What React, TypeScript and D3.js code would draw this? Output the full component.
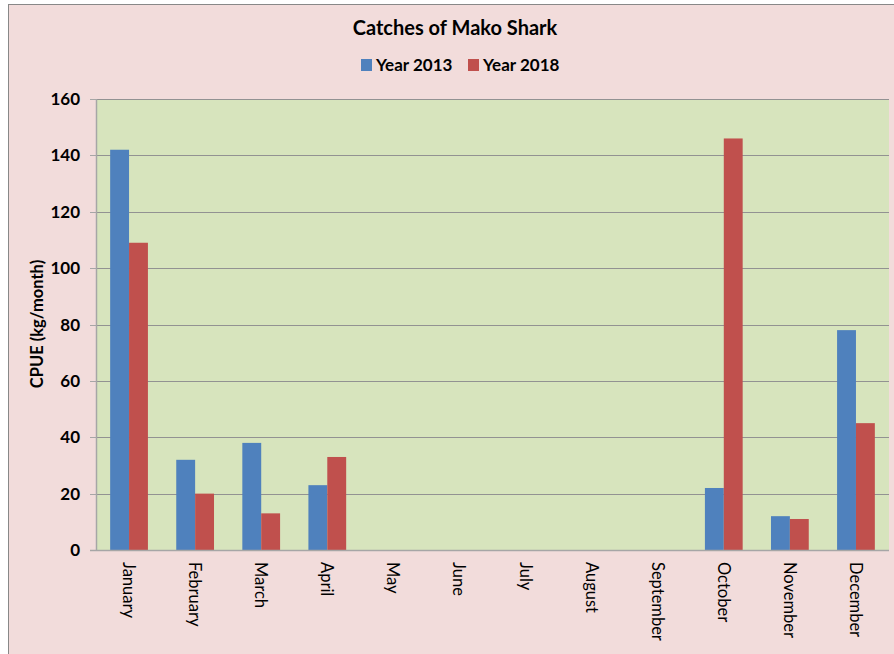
import * as d3 from "d3"

const months = ["January", "February", "March", "April", "May", "June", "July", "August", "September", "October", "November", "December"]
const year2013 = [142, 32, 38, 23, 0, 0, 0, 0, 0, 22, 12, 78]
const year2018 = [109, 20, 13, 33, 0, 0, 0, 0, 0, 146, 11, 45]
const yTicks = [0, 20, 40, 60, 80, 100, 120, 140, 160]
const seriesNames = ["Year 2013", "Year 2018"]
const seriesColors = ["#4f81bd", "#c0504d"]

const W = 894
const H = 654
const plot = { left: 96, right: 889, top: 99, bottom: 550 }
const font = "Lato, 'Open Sans', sans-serif"

export default function App() {
  const x = d3.scaleBand<string>().domain(months).range([plot.left, plot.right]).paddingInner(0).paddingOuter(0)
  const y = d3.scaleLinear().domain([0, 160]).range([plot.bottom, plot.top])
  const bw = x.bandwidth() / 3.5
  const series = [year2013, year2018]

  return (
    <svg width={W} height={H} style={{ position: "absolute", left: 0, top: 0, background: "#fff" }}>
      {/* chart frame */}
      <rect x={8.5} y={4.5} width={W} height={H} fill="#f2dcdb" stroke="#888" strokeWidth={1} />

      {/* plot area */}
      <rect x={plot.left} y={plot.top} width={plot.right - plot.left} height={plot.bottom - plot.top} fill="#d7e4bd" />

      {/* grid lines */}
      {yTicks.filter(t => t > 0).map(t => (
        <line key={t} x1={plot.left} x2={plot.right} y1={Math.round(y(t)) + 0.5} y2={Math.round(y(t)) + 0.5} stroke="#929292" strokeWidth={1} />
      ))}

      {/* bars */}
      {series.map((vals, si) =>
        vals.map((v, i) => {
          const bx = (x(months[i]) ?? 0) + x.bandwidth() / 2 - bw + si * bw
          return v > 0 ? (
            <rect key={`${si}-${i}`} x={bx} y={y(v)} width={bw} height={y(0) - y(v)} fill={seriesColors[si]} />
          ) : null
        })
      )}

      {/* axes */}
      <line x1={plot.left + 0.5} x2={plot.left + 0.5} y1={plot.top} y2={plot.bottom} stroke="#a6a6a6" strokeWidth={1.5} />
      <line x1={plot.left - 6} x2={plot.right} y1={plot.bottom + 0.5} y2={plot.bottom + 0.5} stroke="#a6a6a6" strokeWidth={1.5} />
      {yTicks.map(t => (
        <g key={t}>
          <line x1={plot.left - 6} x2={plot.left} y1={Math.round(y(t)) + 0.5} y2={Math.round(y(t)) + 0.5} stroke="#a6a6a6" strokeWidth={1} />
          <text x={80} y={y(t)} dy="0.36em" textAnchor="end" fontFamily={font} fontWeight="bold" fontSize={17} fill="#000">
            {t}
          </text>
        </g>
      ))}

      {/* x labels */}
      {months.map(m => {
        const cx = (x(m) ?? 0) + x.bandwidth() / 2
        return (
          <text key={m} transform={`translate(${cx - 6},562) rotate(90)`} textAnchor="start" fontFamily={font} fontSize={16.5} fill="#000">
            {m}
          </text>
        )
      })}

      {/* y axis title */}
      <text transform="translate(43,324) rotate(-90)" textAnchor="middle" fontFamily={font} fontWeight="bold" fontSize={16.5} fill="#000">
        CPUE (kg/month)
      </text>

      {/* title */}
      <text x={455} y={35} textAnchor="middle" fontFamily={font} fontWeight="bold" fontSize={20} fill="#000">
        Catches of Mako Shark
      </text>

      {/* legend */}
      {seriesNames.map((name, i) => {
        const lx = i === 0 ? 361 : 468
        return (
          <g key={name}>
            <rect x={lx} y={59} width={11} height={12} fill={seriesColors[i]} />
            <text x={lx + 15} y={71} fontFamily={font} fontWeight="bold" fontSize={17} fill="#000">
              {name}
            </text>
          </g>
        )
      })}
    </svg>
  )
}
